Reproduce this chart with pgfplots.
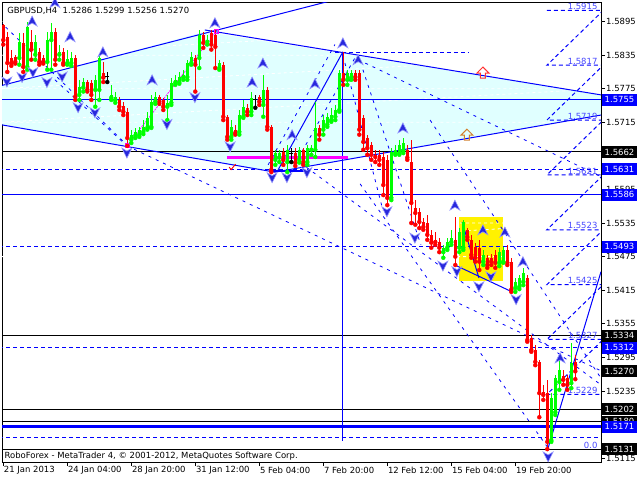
\documentclass[border=0pt]{standalone}
\usepackage{pgfplots}
\pgfplotsset{compat=1.18}
\usepackage{pgfplotstable}
\usepackage{fontspec}
\setmainfont{DejaVu Sans}

\definecolor{mtblue}{RGB}{0,0,255}
\definecolor{mtcyan}{RGB}{224,255,255}
\definecolor{mtlime}{RGB}{0,255,0}
\definecolor{mtred}{RGB}{255,0,0}
\definecolor{mtfib}{RGB}{70,70,255}
\definecolor{mtmag}{RGB}{255,0,255}
\definecolor{arrfill}{RGB}{40,40,220}
\definecolor{arredge}{RGB}{150,150,255}
\newcommand{\mtfont}{\fontsize{8.5}{10}\selectfont}

% fractal arrows
\pgfdeclareplotmark{mtup}{%
  \pgfpathmoveto{\pgfqpoint{0bp}{5bp}}%
  \pgfpathlineto{\pgfqpoint{5bp}{-5bp}}%
  \pgfpathlineto{\pgfqpoint{0bp}{-2bp}}%
  \pgfpathlineto{\pgfqpoint{-5bp}{-5bp}}%
  \pgfpathclose\pgfusepathqfillstroke}
\pgfdeclareplotmark{mtdown}{%
  \pgfpathmoveto{\pgfqpoint{0bp}{-5bp}}%
  \pgfpathlineto{\pgfqpoint{5bp}{5bp}}%
  \pgfpathlineto{\pgfqpoint{0bp}{2bp}}%
  \pgfpathlineto{\pgfqpoint{-5bp}{5bp}}%
  \pgfpathclose\pgfusepathqfillstroke}
\pgfdeclareplotmark{blockup}{%
  \pgfpathmoveto{\pgfqpoint{0bp}{6bp}}%
  \pgfpathlineto{\pgfqpoint{6bp}{0bp}}%
  \pgfpathlineto{\pgfqpoint{2.5bp}{0bp}}%
  \pgfpathlineto{\pgfqpoint{2.5bp}{-5bp}}%
  \pgfpathlineto{\pgfqpoint{-2.5bp}{-5bp}}%
  \pgfpathlineto{\pgfqpoint{-2.5bp}{0bp}}%
  \pgfpathlineto{\pgfqpoint{-6bp}{0bp}}%
  \pgfpathclose\pgfusepathqstroke}
\pgfdeclareplotmark{chk}{%
  \pgfpathmoveto{\pgfqpoint{-3bp}{0bp}}%
  \pgfpathlineto{\pgfqpoint{-1bp}{-2.5bp}}%
  \pgfpathlineto{\pgfqpoint{3.5bp}{3bp}}%
  \pgfusepathqstroke}

% bar index, open, high, low, close
\pgfplotstableread{
x o h l c
0 1.5889 1.5891 1.5854 1.5862
1 1.5868 1.5877 1.5805 1.5821
2 1.5830 1.5845 1.5816 1.5821
3 1.5832 1.5836 1.5820 1.5823
5 1.5857 1.5875 1.5805 1.5814
7 1.5859 1.5880 1.5827 1.5845
9 1.5841 1.5848 1.5818 1.5823
10 1.5830 1.5836 1.5820 1.5823
13 1.5877 1.5884 1.5818 1.5827
15 1.5841 1.5848 1.5818 1.5821
18 1.5830 1.5836 1.5755 1.5761
21 1.5787 1.5791 1.5770 1.5773
22 1.5786 1.5791 1.5755 1.5764
25 1.5804 1.5823 1.5787 1.5795
29 1.5755 1.5761 1.5737 1.5743
30 1.5745 1.5752 1.5728 1.5734
31 1.5734 1.5741 1.5673 1.5687
39 1.5761 1.5764 1.5748 1.5752
40 1.5755 1.5759 1.5737 1.5743
48 1.5830 1.5836 1.5770 1.5818
50 1.5871 1.5877 1.5848 1.5857
52 1.5875 1.5880 1.5845 1.5854
53 1.5871 1.5880 1.5812 1.5850
55 1.5818 1.5823 1.5719 1.5725
56 1.5725 1.5728 1.5684 1.5689
58 1.5702 1.5711 1.5693 1.5696
61 1.5741 1.5748 1.5728 1.5734
64 1.5761 1.5764 1.5746 1.5752
66 1.5773 1.5778 1.5702 1.5707
67 1.5707 1.5711 1.5626 1.5630
70 1.5662 1.5669 1.5639 1.5648
73 1.5660 1.5669 1.5637 1.5643
75 1.5666 1.5669 1.5639 1.5644
79 1.5705 1.5711 1.5684 1.5693
85 1.5804 1.5841 1.5782 1.5791
88 1.5804 1.5809 1.5791 1.5796
89 1.5804 1.5809 1.5693 1.5702
90 1.5723 1.5728 1.5666 1.5680
91 1.5687 1.5693 1.5657 1.5669
92 1.5675 1.5680 1.5648 1.5657
93 1.5657 1.5666 1.5644 1.5653
94 1.5657 1.5666 1.5639 1.5648
95 1.5653 1.5662 1.5585 1.5603
96 1.5648 1.5657 1.5567 1.5580
101 1.5666 1.5675 1.5648 1.5652
102 1.5644 1.5684 1.5535 1.5571
103 1.5562 1.5576 1.5532 1.5553
104 1.5555 1.5562 1.5526 1.5537
105 1.5537 1.5544 1.5523 1.5528
106 1.5535 1.5550 1.5505 1.5514
107 1.5514 1.5523 1.5491 1.5500
108 1.5505 1.5519 1.5496 1.5501
109 1.5501 1.5509 1.5483 1.5491
113 1.5505 1.5546 1.5460 1.5475
116 1.5523 1.5526 1.5505 1.5510
117 1.5505 1.5514 1.5473 1.5478
118 1.5492 1.5500 1.5466 1.5473
119 1.5491 1.5505 1.5451 1.5466
121 1.5473 1.5478 1.5455 1.5460
122 1.5473 1.5480 1.5460 1.5466
123 1.5478 1.5487 1.5455 1.5464
126 1.5487 1.5496 1.5460 1.5464
127 1.5466 1.5473 1.5412 1.5416
131 1.5437 1.5442 1.5323 1.5326
132 1.5330 1.5335 1.5305 1.5308
133 1.5308 1.5317 1.5281 1.5287
134 1.5287 1.5290 1.5188 1.5231
135 1.5233 1.5246 1.5219 1.5228
136 1.5231 1.5255 1.5131 1.5144
140 1.5262 1.5272 1.5246 1.5255
141 1.5258 1.5264 1.5237 1.5246
143 1.5286 1.5299 1.5256 1.5270
}\redbars

\pgfplotstableread{
x o h l c
4 1.5830 1.5875 1.5818 1.5859
6 1.5814 1.5895 1.5809 1.5886
8 1.5836 1.5871 1.5827 1.5859
11 1.5823 1.5877 1.5809 1.5862
12 1.5862 1.5893 1.5809 1.5877
14 1.5836 1.5854 1.5827 1.5841
16 1.5821 1.5845 1.5818 1.5829
17 1.5821 1.5841 1.5816 1.5830
19 1.5764 1.5791 1.5755 1.5778
20 1.5777 1.5795 1.5770 1.5787
23 1.5773 1.5800 1.5743 1.5791
24 1.5773 1.5836 1.5755 1.5830
27 1.5759 1.5782 1.5755 1.5764
28 1.5755 1.5770 1.5750 1.5761
32 1.5684 1.5702 1.5678 1.5693
33 1.5691 1.5705 1.5687 1.5698
34 1.5693 1.5707 1.5689 1.5702
35 1.5698 1.5719 1.5694 1.5707
36 1.5705 1.5734 1.5702 1.5723
37 1.5707 1.5764 1.5705 1.5752
38 1.5752 1.5770 1.5748 1.5761
41 1.5743 1.5764 1.5719 1.5750
42 1.5750 1.5795 1.5746 1.5786
43 1.5786 1.5800 1.5782 1.5791
44 1.5787 1.5805 1.5784 1.5796
45 1.5795 1.5809 1.5791 1.5800
46 1.5796 1.5827 1.5791 1.5821
47 1.5821 1.5841 1.5818 1.5832
49 1.5830 1.5880 1.5812 1.5871
51 1.5859 1.5871 1.5854 1.5862
54 1.5812 1.5827 1.5809 1.5821
57 1.5689 1.5719 1.5684 1.5707
59 1.5698 1.5737 1.5693 1.5728
60 1.5725 1.5755 1.5723 1.5743
62 1.5734 1.5770 1.5728 1.5759
65 1.5746 1.5800 1.5725 1.5773
68 1.5648 1.5666 1.5639 1.5660
69 1.5652 1.5666 1.5644 1.5660
71 1.5644 1.5675 1.5626 1.5666
74 1.5648 1.5671 1.5643 1.5666
76 1.5644 1.5675 1.5639 1.5669
77 1.5666 1.5675 1.5657 1.5669
78 1.5666 1.5752 1.5653 1.5705
80 1.5702 1.5728 1.5693 1.5719
81 1.5711 1.5732 1.5707 1.5725
82 1.5719 1.5741 1.5716 1.5728
83 1.5725 1.5746 1.5719 1.5737
84 1.5737 1.5809 1.5734 1.5804
86 1.5791 1.5809 1.5782 1.5804
87 1.5795 1.5809 1.5791 1.5804
97 1.5580 1.5669 1.5576 1.5662
98 1.5660 1.5675 1.5657 1.5666
99 1.5660 1.5684 1.5657 1.5675
100 1.5664 1.5687 1.5660 1.5678
110 1.5483 1.5496 1.5473 1.5491
111 1.5491 1.5509 1.5487 1.5501
112 1.5501 1.5523 1.5496 1.5509
114 1.5491 1.5526 1.5483 1.5519
115 1.5491 1.5541 1.5487 1.5537
120 1.5466 1.5487 1.5460 1.5478
124 1.5464 1.5491 1.5458 1.5483
125 1.5466 1.5492 1.5464 1.5487
128 1.5419 1.5437 1.5412 1.5430
129 1.5421 1.5442 1.5417 1.5437
130 1.5430 1.5455 1.5424 1.5446
137 1.5147 1.5231 1.5144 1.5222
138 1.5197 1.5264 1.5192 1.5258
139 1.5251 1.5290 1.5237 1.5272
142 1.5249 1.5321 1.5240 1.5285
}\greenbars

\pgfplotstableread{
x o h l c
26 1.5796 1.5805 1.5787 1.5796
63 1.5755 1.5764 1.5741 1.5755
72 1.5659 1.5669 1.5644 1.5659
}\dojibars

\newcommand{\fib}[2]{\node[anchor=south east, text=mtfib, inner sep=0.5bp, font=\mtfont]
  at (axis cs:148.7,#1) {#2};}
\newcommand{\hlev}[2]{\addplot[#1] coordinates {(-1,#2) (150,#2)};}
\tikzset{pbox/.style={fill=#1, text=white, anchor=west, inner xsep=3bp, inner ysep=0bp,
  minimum height=12bp, font=\mtfont, xshift=0.5bp}}

\begin{document}
\begin{tikzpicture}
\fill[white] (-2bp,-18bp) rectangle (638bp,462bp);
\useasboundingbox (-2bp,-18bp) rectangle (638bp,462bp);
\begin{axis}[
  scale only axis, width=599bp, height=460bp,
  xmin=-0.325, xmax=149.425, ymin=1.5108, ymax=1.5930,
  axis line style={black, line width=0.8bp},
  xtick={0,16,32,48,64,80,96,112,128},
  xticklabels={21 Jan 2013, 24 Jan 04:00, 28 Jan 20:00, 31 Jan 12:00, 5 Feb 04:00,
    7 Feb 20:00, 12 Feb 12:00, 15 Feb 04:00, 19 Feb 20:00},
  ytick={1.5115,1.5175,1.5235,1.5295,1.5355,1.5415,1.5475,1.5535,1.5595,1.5655,1.5715,1.5775,1.5835,1.5895},
  yticklabels={1.5115,,1.5235,1.5295,1.5355,1.5415,1.5475,1.5535,1.5595,1.5655,1.5715,1.5775,1.5835,1.5895},
  xtick pos=bottom, ytick pos=right, yticklabel pos=right,
  tick align=outside, major tick length=4bp,
  tick style={black, line width=0.8bp},
  xticklabel style={font=\mtfont, anchor=north west, inner sep=0.5bp},
  yticklabel style={font=\mtfont, anchor=west, inner sep=1bp},
]
% filled shapes
\addplot[fill=mtcyan, draw=none] coordinates
  {(-0.33,1.5780) (50.4,1.5877) (149.42,1.5764) (149.42,1.5728) (67.9,1.5626) (-0.33,1.5711)};
\addplot[fill=yellow, draw=none] coordinates
  {(113.9,1.5546) (124.9,1.5546) (124.9,1.5432) (113.9,1.5432)};
% light grid over the shapes
\addplot[white, line width=0.8bp, dash pattern=on 3bp off 3bp] coordinates
  {(-1,1.5895) (150,1.5895) (nan,nan) (-1,1.5835) (150,1.5835) (nan,nan)
   (-1,1.5775) (150,1.5775) (nan,nan) (-1,1.5715) (150,1.5715) (nan,nan)
   (-1,1.5535) (150,1.5535) (nan,nan) (-1,1.5475) (150,1.5475)};

% horizontal levels
\hlev{mtblue, line width=1bp}{1.5755}
\hlev{mtblue, line width=1bp}{1.5586}
\hlev{mtblue, line width=3bp}{1.5171}
\hlev{black, line width=1bp}{1.5662}
\hlev{black, line width=1bp}{1.5334}
\hlev{black, line width=1bp}{1.5202}
\hlev{black, line width=1bp}{1.5180}
\hlev{black, line width=1bp}{1.5131}
\hlev{mtblue, line width=1bp, dash pattern=on 4bp off 3bp}{1.5631}
\hlev{mtblue, line width=1bp, dash pattern=on 4bp off 3bp}{1.5493}
\hlev{mtblue, line width=1bp, dash pattern=on 4bp off 3bp}{1.5312}
\hlev{mtblue, line width=1bp, dash pattern=on 4bp off 3bp}{1.5151}
\addplot[mtblue, line width=1bp, dash pattern=on 4bp off 3bp] coordinates {(82.9,1.5840) (116.2,1.5840)};

% fibo expansion levels
\addplot[mtblue, line width=1bp, dash pattern=on 4bp off 3bp] coordinates
  {(135.9,1.5915) (150,1.5915) (nan,nan) (135.9,1.5817) (150,1.5817) (nan,nan)
   (135.9,1.5719) (150,1.5719) (nan,nan) (135.9,1.5621) (150,1.5621) (nan,nan)
   (135.9,1.5523) (150,1.5523) (nan,nan) (135.9,1.5425) (150,1.5425) (nan,nan)
   (135.9,1.5327) (150,1.5327) (nan,nan) (135.9,1.5229) (150,1.5229)};

% trend lines
\addplot[mtblue, line width=1bp] coordinates {(-0.83,1.5780) (82.9,1.5934)};
\addplot[mtblue, line width=1bp] coordinates {(50.4,1.5880) (149.42,1.5764)};
\addplot[mtblue, line width=1bp] coordinates {(-0.83,1.5711) (67.9,1.5626)};
\addplot[mtblue, line width=1bp] coordinates {(67.9,1.5626) (149.42,1.5728)};
\addplot[mtblue, line width=1bp] coordinates {(136.2,1.5133) (149.42,1.5448)};
\addplot[mtblue, line width=1bp] coordinates {(68.7,1.5630) (84.9,1.5841)};
\addplot[mtblue, line width=2.5bp] coordinates {(66.7,1.5628) (76.7,1.5628)};
\addplot[mtblue, line width=1bp] coordinates {(114.7,1.5537) (118.9,1.5437)};
\addplot[mtblue, line width=1bp] coordinates {(112.9,1.5460) (127.2,1.5412)};
\addplot[mtblue, line width=1bp] coordinates {(84.9,1.5841) (84.9,1.5145)};

\addplot[mtblue, line width=0.8bp, dash pattern=on 3bp off 5bp] coordinates {(-0.83,1.5895) (31.7,1.5669)};
\addplot[mtblue, line width=0.8bp, dash pattern=on 3bp off 5bp] coordinates {(12.9,1.5791) (30.9,1.5673)};
\addplot[mtblue, line width=0.8bp, dash pattern=on 3bp off 5bp] coordinates {(30.9,1.5673) (149.4,1.5271)};
\addplot[mtblue, line width=0.8bp, dash pattern=on 3bp off 5bp] coordinates {(74.2,1.5643) (149.4,1.5246)};
\addplot[mtblue, line width=0.8bp, dash pattern=on 3bp off 5bp] coordinates {(88.7,1.5827) (149.4,1.5618)};
\addplot[mtblue, line width=0.8bp, dash pattern=on 3bp off 5bp] coordinates {(89.2,1.5605) (136.2,1.5133)};
\addplot[mtblue, line width=0.8bp, dash pattern=on 3bp off 5bp] coordinates {(85.4,1.5821) (94.9,1.5558)};
\addplot[mtblue, line width=0.8bp, dash pattern=on 3bp off 5bp] coordinates {(89.9,1.5809) (104.4,1.5496)};
\addplot[mtblue, line width=0.8bp, dash pattern=on 3bp off 5bp] coordinates {(106.7,1.5719) (149.4,1.5258)};
\addplot[mtblue, line width=0.8bp, dash pattern=on 3bp off 5bp] coordinates {(66.2,1.5639) (82.9,1.5854)};
\addplot[mtblue, line width=0.8bp, dash pattern=on 3bp off 5bp] coordinates {(71.7,1.5625) (87.9,1.5830)};

% zigzag and support
\addplot[mtmag, line width=0.7bp, dash pattern=on 2bp off 1bp] coordinates {(30.9,1.5673) (53.2,1.5877)};
\addplot[mtmag, line width=3bp] coordinates {(55.9,1.5652) (86.2,1.5652)};
\addplot[only marks, mark=square, mark size=2bp, mark options={draw=mtmag, line width=0.8bp}]
  coordinates {(30.9,1.5673) (53.2,1.5877)};

% candles: wicks then bodies
\addplot[only marks, mark=none, mtred, error bars/.cd, y dir=plus, y explicit, error mark=none,
  error bar style={line width=1bp}] table[x=x, y=l, y error plus expr=\thisrow{h}-\thisrow{l}] {\redbars};
\addplot[only marks, mark=none, mtred, error bars/.cd, y dir=plus, y explicit, error mark=none,
  error bar style={line width=3bp}] table[x=x, y=c, y error plus expr=\thisrow{o}-\thisrow{c}] {\redbars};
\addplot[only marks, mark=none, mtlime, error bars/.cd, y dir=plus, y explicit, error mark=none,
  error bar style={line width=1bp}] table[x=x, y=l, y error plus expr=\thisrow{h}-\thisrow{l}] {\greenbars};
\addplot[only marks, mark=none, mtlime, error bars/.cd, y dir=plus, y explicit, error mark=none,
  error bar style={line width=3bp}] table[x=x, y=o, y error plus expr=\thisrow{c}-\thisrow{o}] {\greenbars};
\addplot[only marks, mark=none, black, error bars/.cd, y dir=plus, y explicit, error mark=none,
  error bar style={line width=1bp}] table[x=x, y=l, y error plus expr=\thisrow{h}-\thisrow{l}] {\dojibars};
\addplot[only marks, mark=-, mark size=2bp, black, mark options={line width=1bp}] table[x=x, y=o] {\dojibars};

% fractal arrows
\addplot[only marks, mark=mtup, mark options={fill=arrfill, draw=arredge, line width=0.6bp}] coordinates {
  (7.2,1.5896) (12.9,1.5929) (16.7,1.5868) (24.9,1.5841) (37.2,1.5791) (52.9,1.5893)
  (62.2,1.5787) (64.9,1.5821) (72.2,1.5693) (77.9,1.5784) (84.9,1.5857) (88.7,1.5827)
  (99.9,1.5705) (112.9,1.5567) (119.9,1.5523) (125.4,1.5519) (129.9,1.5466) (139.2,1.5294)};
\addplot[only marks, mark=mtdown, mark options={fill=arrfill, draw=arredge, line width=0.6bp}] coordinates {
  (0.9,1.5787) (4.7,1.5795) (7.4,1.5804) (10.9,1.5786) (14.7,1.5796) (18.7,1.5741)
  (22.9,1.5732) (30.9,1.5660) (40.9,1.5711) (47.9,1.5759) (56.7,1.5671) (67.2,1.5616)
  (70.9,1.5616) (75.9,1.5625) (95.9,1.5555) (102.9,1.5508) (109.9,1.5458) (113.4,1.5448)
  (118.9,1.5421) (121.9,1.5439) (128.2,1.5398) (136.2,1.5117)};
\addplot[only marks, mark=blockup, mark options={draw=red!80, line width=1bp}] coordinates {(119.9,1.5803)};
\addplot[only marks, mark=blockup, mark options={draw=brown!70!orange, line width=1bp}] coordinates {(115.9,1.5692)};
\addplot[only marks, mark=chk, mark options={draw=red, line width=0.9bp}] coordinates {(57.2,1.5635)};

% level labels
\fib{1.5915}{1.5915}
\fib{1.5817}{1.5817}
\fib{1.5719}{1.5719}
\fib{1.5621}{1.5621}
\fib{1.5523}{1.5523}
\fib{1.5425}{1.5425}
\fib{1.5327}{1.5327}
\fib{1.5229}{1.5229}
\fib{1.5131}{0.0}

\coordinate (b1) at (axis cs:149.425,1.5755);
\coordinate (b2) at (axis cs:149.425,1.5662);
\coordinate (b3) at (axis cs:149.425,1.5631);
\coordinate (b4) at (axis cs:149.425,1.5586);
\coordinate (b5) at (axis cs:149.425,1.5493);
\coordinate (b6) at (axis cs:149.425,1.5334);
\coordinate (b7) at (axis cs:149.425,1.5312);
\coordinate (b8) at (axis cs:149.425,1.5270);
\coordinate (b9) at (axis cs:149.425,1.5202);
\coordinate (b10) at (axis cs:149.425,1.5180);
\coordinate (b11) at (axis cs:149.425,1.5171);
\coordinate (b12) at (axis cs:149.425,1.5131);

\node[anchor=west, inner sep=0pt, font=\mtfont] at (rel axis cs:0.0085,0.980)
  {GBPUSD,H4~~1.5286 1.5299 1.5256 1.5270};
\node[anchor=west, inner sep=0pt, font=\mtfont] at (rel axis cs:0.004,0.013)
  {RoboForex - MetaTrader 4, © 2001-2012, MetaQuotes Software Corp.};
\end{axis}
% price tags on the scale
\node[pbox=mtblue] at (b1) {1.5755};
\node[pbox=black] at (b2) {1.5662};
\node[pbox=mtblue] at (b3) {1.5631};
\node[pbox=mtblue] at (b4) {1.5586};
\node[pbox=mtblue] at (b5) {1.5493};
\node[pbox=black] at (b6) {1.5334};
\node[pbox=mtblue] at (b7) {1.5312};
\node[pbox=black] at (b8) {1.5270};
\node[pbox=black] at (b9) {1.5202};
\node[pbox=black] at (b10) {1.5180};
\node[pbox=mtblue] at (b11) {1.5171};
\node[pbox=black] at (b12) {1.5131};
\end{tikzpicture}
\end{document}
